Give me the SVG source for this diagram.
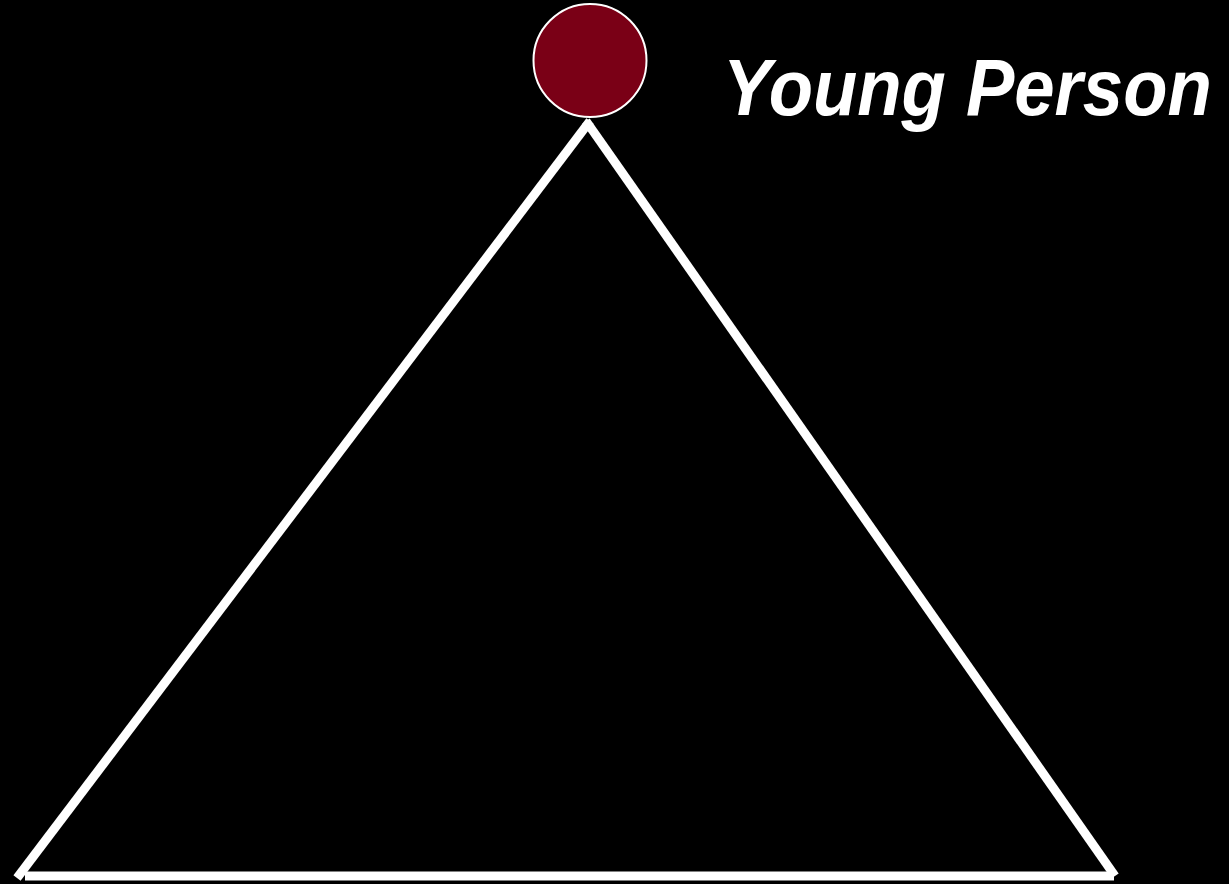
<svg xmlns="http://www.w3.org/2000/svg" width="1229" height="884" viewBox="0 0 1229 884">
<style>
.edge{stroke:#fff;stroke-width:9;fill:none;stroke-linecap:butt}
.lbl{font-family:"Liberation Sans",Arial,sans-serif;font-weight:bold;font-style:italic;fill:#fff}
</style>
<rect width="1229" height="884" fill="#000"/>
<g id="connectors">
<line class="edge" x1="17" y1="878" x2="590" y2="121"/>
<line class="edge" x1="586" y1="121" x2="1115" y2="876"/>
<line class="edge" x1="25" y1="876" x2="1114" y2="876"/>
</g>
<g id="young-person">
<circle cx="590" cy="60.5" r="56.5" fill="#7a0016" stroke="#fff" stroke-width="2"/>
<text class="lbl" transform="translate(723,115) scale(1,1.09)" x="0" y="0" font-size="72.5">Young Person</text>
</g>
</svg>
